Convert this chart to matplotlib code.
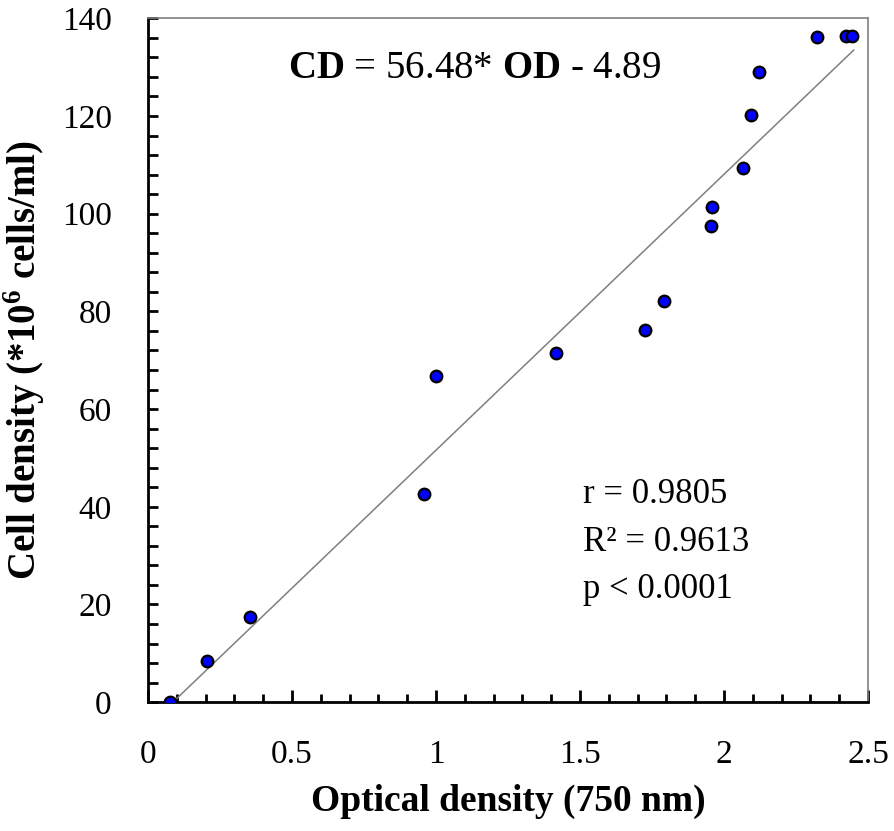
import numpy as np
import matplotlib
matplotlib.use('Agg')
import matplotlib.pyplot as plt
from matplotlib.ticker import MultipleLocator

plt.rcParams['font.family'] = 'Liberation Serif'
plt.rcParams['mathtext.fontset'] = 'custom'
plt.rcParams['mathtext.rm'] = 'Liberation Serif'
plt.rcParams['mathtext.bf'] = 'Liberation Serif:bold'

# optical density (750 nm) vs cell density (*10^6 cells/ml)
od = [0.076, 0.205, 0.354, 0.958, 1.0, 1.417, 1.726, 1.792, 1.955, 1.958,
      2.066, 2.094, 2.122, 2.323, 2.424, 2.444]
cd = [0.0, 8.4, 17.5, 42.7, 66.7, 71.4, 76.2, 82.1, 97.5, 101.4,
      109.4, 120.1, 129.1, 136.1, 136.3, 136.3]
slope = 56.48
intercept = -4.89
stats = ['r = 0.9805', 'R² = 0.9613', 'p < 0.0001']

fig = plt.figure(figsize=(8.94, 8.31), dpi=100)
ax = fig.add_axes([0.1655, 0.155, 0.8055, 0.823])

# regression line
x_line = np.array([-intercept / slope, 2.45])
ax.plot(x_line, slope * x_line + intercept, color='#7f7f7f', lw=1.1, zorder=2)
ax.scatter(od, cd, s=70, color='#0000ff', edgecolors='black', linewidths=1.6, zorder=3)

ax.set_xlim(0, 2.5)
ax.set_ylim(0, 140)
ax.xaxis.set_major_locator(MultipleLocator(0.5))
ax.xaxis.set_minor_locator(MultipleLocator(0.1))
ax.yaxis.set_major_locator(MultipleLocator(20))
ax.yaxis.set_minor_locator(MultipleLocator(4))
ax.set_xticks([0, 0.5, 1, 1.5, 2, 2.5])
ax.set_xticklabels(['0', '0.5', '1', '1.5', '2', '2.5'])

for s in ['left', 'bottom']:
    ax.spines[s].set_linewidth(2)
    ax.spines[s].set_color('black')
for s in ['top', 'right']:
    ax.spines[s].set_linewidth(1.2)
    ax.spines[s].set_color('#808080')

ax.tick_params(axis='x', which='major', direction='in', length=9, width=2, pad=27, labelsize=24)
ax.tick_params(axis='x', which='minor', direction='in', length=6, width=2)
ax.tick_params(axis='y', which='major', direction='in', length=7, width=2, pad=26, labelsize=24)
ax.tick_params(axis='y', which='minor', direction='in', length=7, width=2)

ax.set_xlabel('Optical density (750 nm)', fontsize=27, fontweight='bold', labelpad=10)
ax.set_ylabel(r'Cell density (*10$^{\mathbf{6}}$ cells/ml)', fontsize=28, fontweight='bold', labelpad=11)

ax.text(0.194, 0.912, r'$\mathbf{CD}$ = 56.48* $\mathbf{OD}$ - 4.89', transform=ax.transAxes,
        fontsize=28, va='baseline', ha='left')
for i, t in enumerate(stats):
    ax.text(0.604, 0.291 - i * 0.0695, t, transform=ax.transAxes,
            fontsize=25, va='baseline', ha='left')

plt.savefig('out.png', dpi=100)
plt.close()
